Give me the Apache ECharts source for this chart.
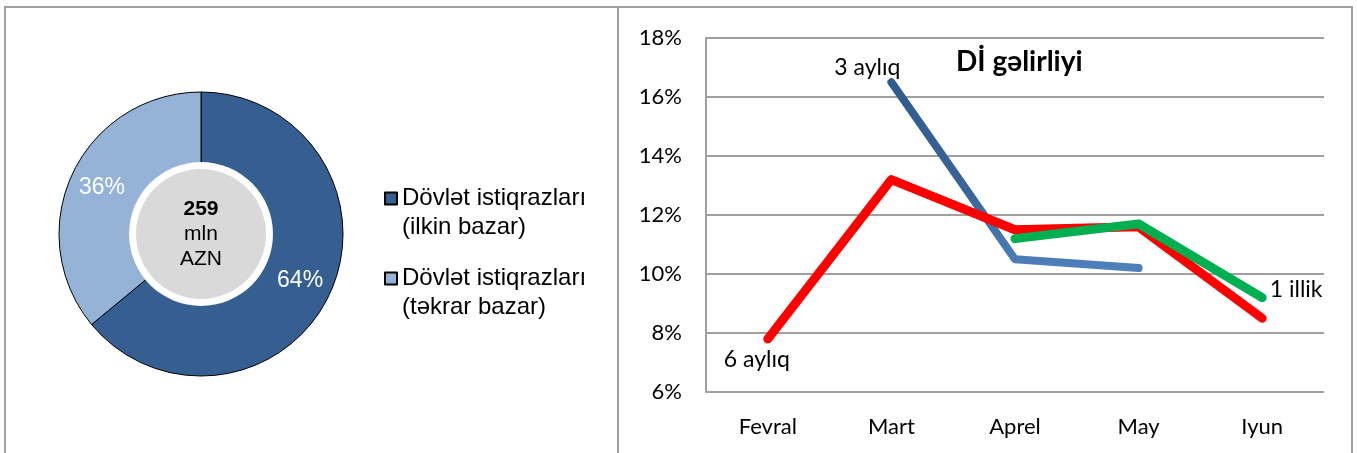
<!DOCTYPE html>
<html>
<head>
<meta charset="utf-8">
<script src="https://cdn.jsdelivr.net/npm/echarts@6/dist/echarts.min.js"></script>
<style>
  html, body { margin: 0; padding: 0; background: #fff; }
  #chart { width: 1357px; height: 453px; }
</style>
</head>
<body>
<div id="chart"></div>
<script>
// donut
const shareNames = ["Dövlət istiqrazları\n(ilkin bazar)", "Dövlət istiqrazları\n(təkrar bazar)"];
const shareValues = [64, 36];
const shareColors = ["#365F91", "#95B3D7"];
const totalLines = ["259", "mln", "AZN"];

// yields
const months = ["Fevral", "Mart", "Aprel", "May", "Iyun"];
const yield6m = [7.8, 13.2, 11.5, 11.6, 8.5];
const yield3m = [null, 16.5, 10.5, 10.2, null];
const yield1y = [null, null, 11.2, 11.7, 9.2];
const yTicks = { min: 6, max: 18, interval: 2 };

const narrowFont = "Lato, 'Open Sans', sans-serif";
const arialFont = "'Liberation Sans', Arial, sans-serif";

const chart = echarts.init(document.getElementById("chart"));

function withLabel(values, index, label) {
  return values.map((v, i) => (i === index ? { value: v, label: label } : v));
}

const lineLabel = { show: false, fontFamily: narrowFont, fontSize: 23, color: "#000" };

chart.setOption({
  animation: false,
  title: {
    text: "Dİ gəlirliyi",
    left: 956,
    top: 48,
    padding: 0,
    textStyle: { fontFamily: narrowFont, fontWeight: "bold", fontSize: 28, color: "#000" },
  },
  legend: {
    orient: "vertical",
    left: 384,
    top: 155,
    padding: 0,
    itemWidth: 12,
    itemHeight: 12,
    itemGap: -7,
    icon: "rect",
    data: shareNames,
    formatter: (name) => "\n" + name,
    textStyle: {
      fontFamily: arialFont,
      fontSize: 24,
      color: "#000",
      lineHeight: 29,
    },
  },
  grid: { left: 706, right: 33, top: 38, bottom: 61 },
  xAxis: {
    type: "category",
    data: months,
    boundaryGap: true,
    axisLine: { show: false },
    axisTick: { show: false },
    axisLabel: { fontFamily: narrowFont, fontSize: 22, color: "#000", margin: 24 },
  },
  yAxis: {
    type: "value",
    min: yTicks.min,
    max: yTicks.max,
    interval: yTicks.interval,
    axisLine: { show: true, lineStyle: { color: "#a0a0a0", width: 2 } },
    axisTick: { show: false },
    splitLine: { lineStyle: { color: "#a0a0a0", width: 2 } },
    axisLabel: {
      formatter: "{value}%",
      fontFamily: narrowFont,
      fontSize: 22,
      color: "#000",
      margin: 24,
    },
  },
  series: [
    {
      type: "pie",
      center: [201, 234],
      radius: [71, 142],
      startAngle: 90,
      clockwise: true,
      silent: true,
      z: 1,
      data: shareNames.map((n, i) => ({
        name: n,
        value: shareValues[i],
        itemStyle: { color: shareColors[i] },
      })),
      itemStyle: { borderColor: "#000", borderWidth: 1 },
      label: {
        show: true,
        position: "inside",
        formatter: "{c}%",
        color: "#fff",
        fontFamily: arialFont,
        fontSize: 23,
      },
      labelLine: { show: false },
    },
    {
      type: "pie",
      center: [201, 234],
      radius: [0, 72],
      silent: true,
      z: 2,
      data: [{ value: 1, name: "ring", itemStyle: { color: "#fff" } }],
      label: { show: false },
      labelLine: { show: false },
    },
    {
      type: "pie",
      center: [201, 234],
      radius: [0, 65],
      silent: true,
      z: 3,
      data: [{ value: 1, name: "total", itemStyle: { color: "#D9D9D9" } }],
      label: {
        show: true,
        position: "center",
        formatter: () => `{b|${totalLines[0]}}\n{n|${totalLines[1]}}\n{n|${totalLines[2]}}`,
        rich: {
          b: { fontFamily: arialFont, fontWeight: "bold", fontSize: 21, color: "#000", lineHeight: 25 },
          n: { fontFamily: arialFont, fontSize: 21, color: "#000", lineHeight: 25 },
        },
      },
      labelLine: { show: false },
    },
    {
      name: "3 aylıq",
      type: "line",
      z: 3,
      data: withLabel(yield3m, 1, {
        show: true,
        position: "top",
        offset: [-24, 2],
        formatter: "3 aylıq",
      }),
      symbol: "circle",
      symbolSize: 1,
      showSymbol: true,
      itemStyle: { color: "#2F5A8C" },
      lineStyle: {
        width: 8,
        cap: "round",
        join: "round",
        color: new echarts.graphic.LinearGradient(0, 0, 0, 1, [
          { offset: 0, color: "#2F5A8C" },
          { offset: 0.6, color: "#3A6599" },
          { offset: 1, color: "#4F81BD" },
        ]),
      },
      label: lineLabel,
    },
    {
      name: "6 aylıq",
      type: "line",
      z: 4,
      data: withLabel(yield6m, 0, {
        show: true,
        position: "bottom",
        offset: [-11, 4],
        formatter: "6 aylıq",
      }),
      symbol: "circle",
      symbolSize: 1,
      showSymbol: true,
      itemStyle: { color: "#FF0000" },
      lineStyle: { width: 9, color: "#FF0000", cap: "round", join: "round" },
      label: lineLabel,
    },
    {
      name: "1 illik",
      type: "line",
      z: 5,
      data: withLabel(yield1y, 4, {
        show: true,
        position: "right",
        offset: [2, -8],
        formatter: "1 illik",
      }),
      symbol: "circle",
      symbolSize: 1,
      showSymbol: true,
      itemStyle: { color: "#00B050" },
      lineStyle: { width: 9, color: "#00B050", cap: "round", join: "round" },
      label: lineLabel,
    },
  ],
  graphic: [
    {
      type: "rect",
      silent: true,
      shape: { x: 5, y: 7, width: 613, height: 470 },
      style: { fill: null, stroke: "#a0a0a0", lineWidth: 2 },
    },
    {
      type: "rect",
      silent: true,
      shape: { x: 618, y: 7, width: 734, height: 470 },
      style: { fill: null, stroke: "#a0a0a0", lineWidth: 2 },
    },
  ],
});
</script>
</body>
</html>
